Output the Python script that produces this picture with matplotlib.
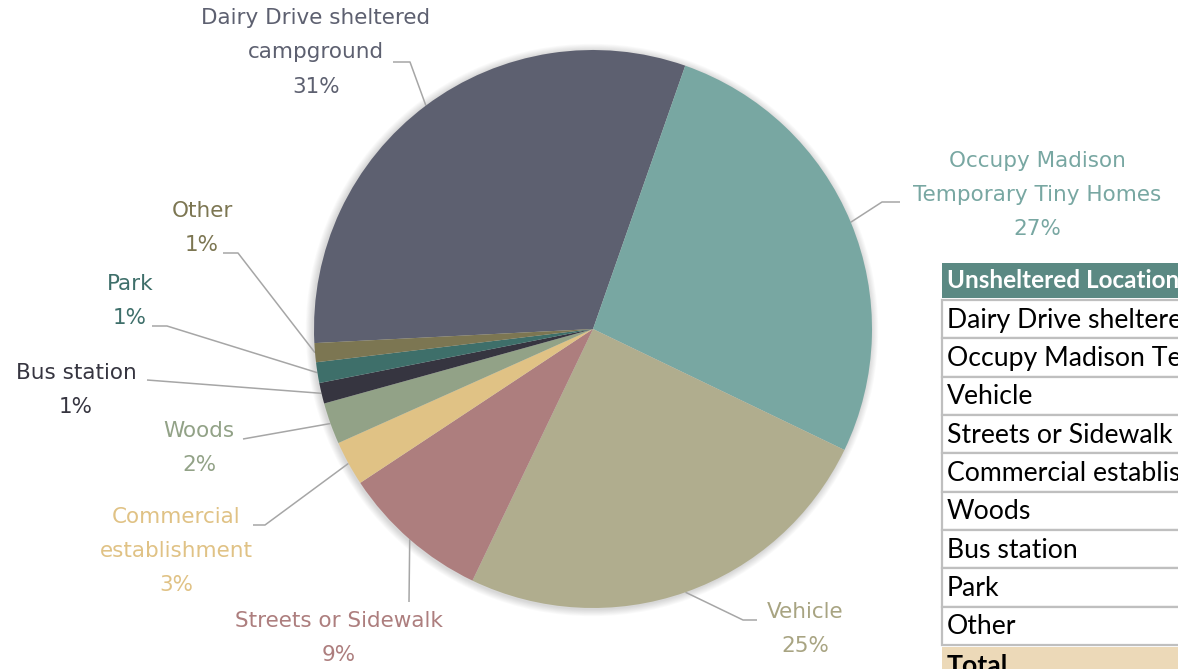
import matplotlib
matplotlib.use("Agg")
import matplotlib.pyplot as plt
import numpy as np
from matplotlib.patches import Rectangle, Circle

# ---------------- data ----------------
categories = ["Dairy Drive sheltered campground", "Occupy Madison Temporary Tiny Homes",
              "Vehicle", "Streets or Sidewalk", "Commercial establishment", "Woods",
              "Bus station", "Park", "Other"]
label_names = ["Dairy Drive sheltered\ncampground", "Occupy Madison\nTemporary Tiny Homes",
               "Vehicle", "Streets or Sidewalk", "Commercial\nestablishment", "Woods",
               "Bus station", "Park", "Other"]
values = [31.2, 26.8, 25.0, 8.6, 2.6, 2.4, 1.2, 1.2, 1.1]
slice_colors = ["#5d6070", "#78a7a2", "#b0ad8e", "#ad7e7e", "#e0c285", "#92a287",
                "#363540", "#3e6f6a", "#7c7652"]
label_colors = ["#5d6070", "#78a7a2", "#a8a482", "#ad7e7e", "#e0c285", "#92a287",
                "#363540", "#3e6f6a", "#7c7652"]
table_header = "Unsheltered Location"
table_total = "Total"

# ---------------- layout ----------------
W, H = 1178, 669
fig = plt.figure(figsize=(W / 100, H / 100), dpi=100)
ax = fig.add_axes([0, 0, 1, 1])


def Y(py):
    return H - py


cx, cy, R = 593, Y(329), 279

# soft shadow
for i in range(8, 0, -1):
    ax.add_patch(Circle((cx - 1, cy - 1), R + i * 0.9, color="black", alpha=0.018, lw=0, zorder=0))

wedges, _ = ax.pie(values, colors=slice_colors, startangle=182.9, counterclock=False,
                   center=(cx, cy), radius=R, wedgeprops=dict(linewidth=0), frame=True)
for w in wedges:
    w.set_zorder(2)

total = sum(values)
# label text center (px, y-down) and leader polyline points from text side
label_pos = [(316, 52.5), (1037, 195), (805, 629), (339, 638), (176, 551),
             (199, 448), (76, 390), (130, 301), (202, 228)]
leader_pts = [[(393, 62), (410, 62)],
              [(900, 202), (882, 202)],
              [(757, 620), (743, 620)],
              [(409, 602)],
              [(253, 525), (265, 525)],
              [(243, 439)],
              [(147, 380)],
              [(152, 326), (167, 326)],
              [(223, 253), (238, 253)]]

label_font = ["DejaVu Sans"]
for i, w in enumerate(wedges):
    pct = round(values[i] / total * 100)
    tx, ty = label_pos[i]
    ax.text(tx, Y(ty), f"{label_names[i]}\n{pct}%", ha="center", va="center",
            multialignment="center", color=label_colors[i], fontsize=15.5,
            family=label_font, linespacing=1.9, zorder=5)
    mid = np.deg2rad((w.theta1 + w.theta2) / 2)
    ex, ey = cx + R * np.cos(mid), cy + R * np.sin(mid)
    xs = [p[0] for p in leader_pts[i]] + [ex]
    ys = [Y(p[1]) for p in leader_pts[i]] + [ey]
    ax.plot(xs, ys, color="#a6a6a6", lw=1.1, zorder=1, solid_capstyle="butt")

# ---------------- table ----------------
tfont = ["Lato", "DejaVu Sans"]
tx0, tx1 = 942, 1300
ax.add_patch(Rectangle((tx0, Y(298)), tx1 - tx0, 35, facecolor="#5b8983", edgecolor="none", zorder=3))
ax.text(947, Y(281), table_header, ha="left", va="center", color="white", fontsize=17.5,
        fontweight="bold", family=tfont, zorder=4)
row_h = 38.33
top = 300
for i, c in enumerate(categories):
    y0 = top + i * row_h
    ax.add_patch(Rectangle((tx0, Y(y0 + row_h)), tx1 - tx0, row_h, facecolor="white",
                           edgecolor="#bfbfbf", lw=1.6, zorder=3))
    ax.text(947, Y(y0 + row_h / 2 + 1), c, ha="left", va="center", color="black",
            fontsize=19.2, family=tfont, zorder=4)
y0 = top + 9 * row_h + 2
ax.add_patch(Rectangle((tx0, Y(y0 + 40)), tx1 - tx0, 40, facecolor="#ecd9b8",
                       edgecolor="none", zorder=3))
ax.text(947, Y(y0 + 19), table_total, ha="left", va="center", color="black",
        fontsize=19.2, family=tfont, fontweight="bold", zorder=4)

ax.set_xlim(0, W)
ax.set_ylim(0, H)
ax.set_aspect("auto")
ax.axis("off")
fig.savefig("out.png", dpi=100)
